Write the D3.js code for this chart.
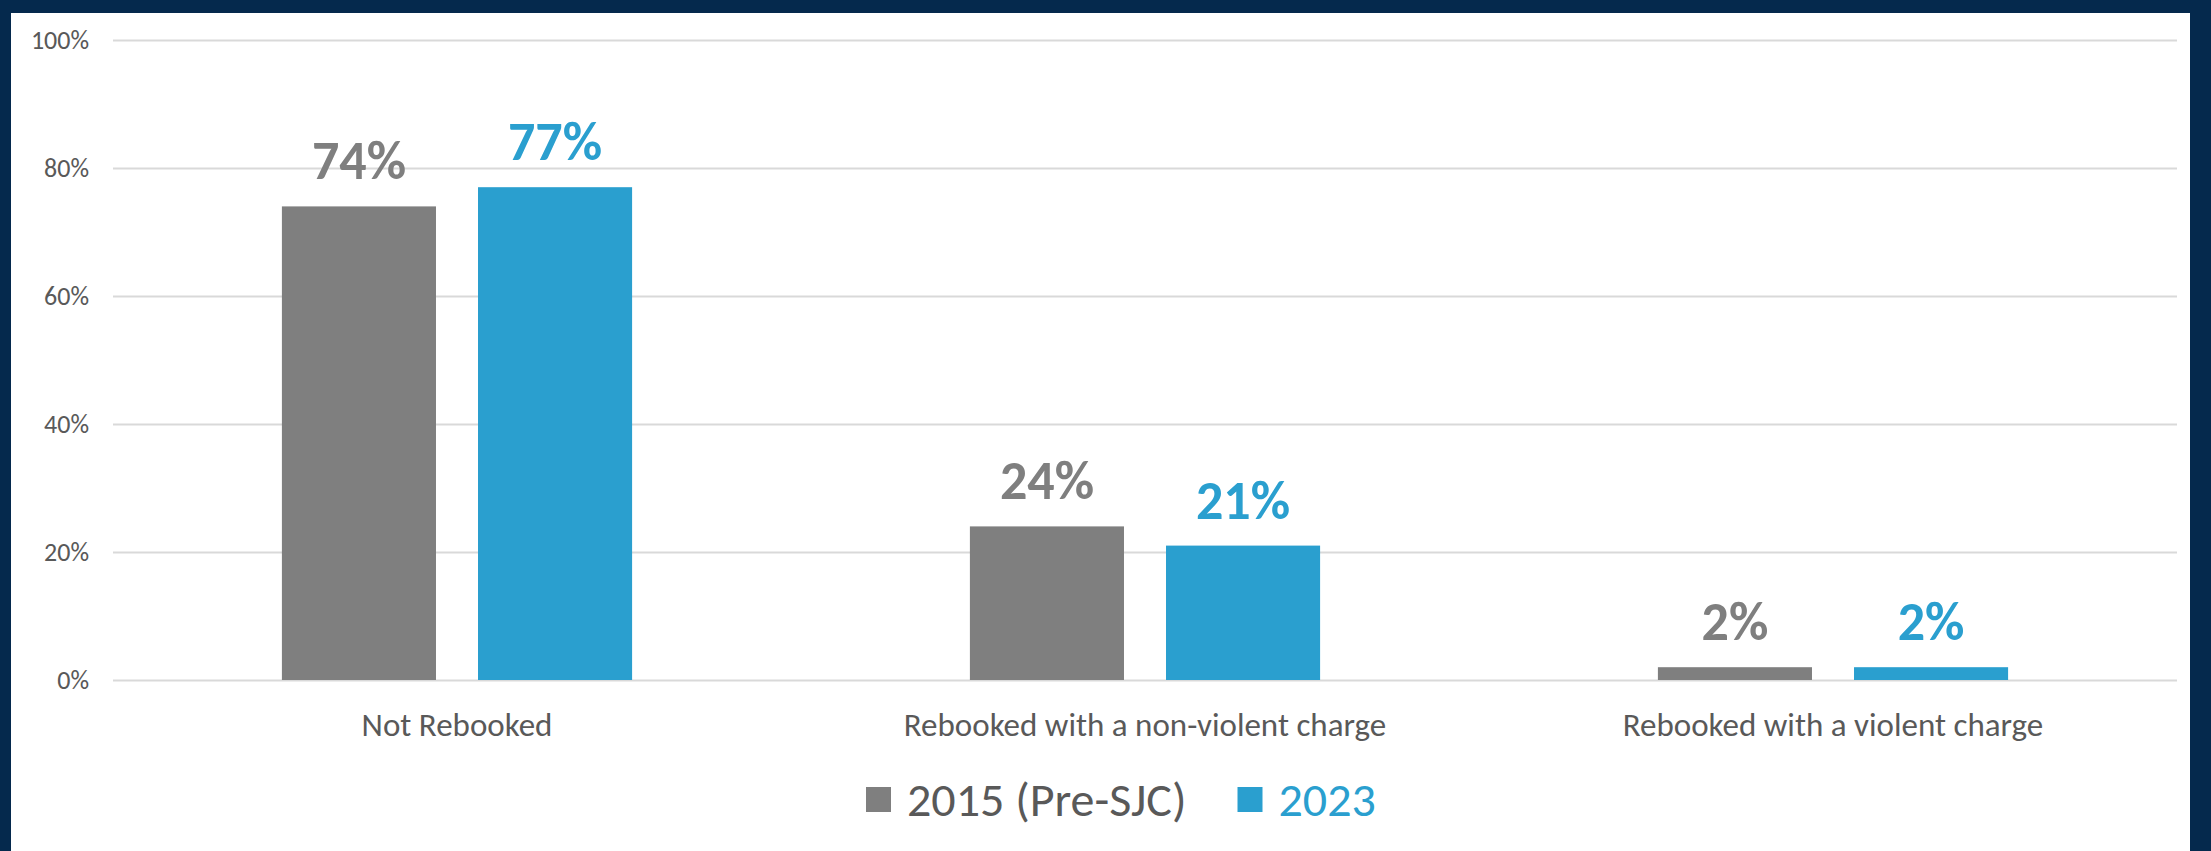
<!DOCTYPE html>
<html>
<head>
<meta charset="utf-8">
<script src="https://cdn.jsdelivr.net/npm/d3@7"></script>
<style>
  html, body { margin: 0; padding: 0; background: #ffffff; }
  svg { display: block; }
  text { font-family: Carlito, Calibri, Lato, "Open Sans", sans-serif; }
</style>
</head>
<body>
<svg id="chart" width="2211" height="851"></svg>
<script>
// ---- data ----
const categories = ["Not Rebooked", "Rebooked with a non-violent charge", "Rebooked with a violent charge"];
const seriesNames = ["2015 (Pre-SJC)", "2023"];
const values2015 = [74, 24, 2];
const values2023 = [77, 21, 2];
const yTicks = [0, 20, 40, 60, 80, 100];
const seriesColors = ["#7f7f7f", "#2a9fcf"];
const legendTextColors = ["#595959", "#2a9fcf"];

const W = 2211, H = 851;
const svg = d3.select("#chart");

// background + navy frame
svg.append("rect").attr("x", 0).attr("y", 0).attr("width", W).attr("height", H).attr("fill", "#05294d");
svg.append("rect").attr("x", 11).attr("y", 13).attr("width", 2190 - 11).attr("height", H - 13).attr("fill", "#ffffff");

const plot = { left: 113, right: 2177, top: 40, bottom: 680 };

const y = d3.scaleLinear().domain([0, 100]).range([plot.bottom, plot.top]);
const x0 = d3.scaleBand().domain(categories).range([plot.left, plot.right])
  .paddingInner(0.491).paddingOuter(0.2455);
const x1 = d3.scaleBand().domain(seriesNames).range([0, x0.bandwidth()]).paddingInner(0.2143);

// gridlines + y labels via axis
const yAxis = d3.axisLeft(y).tickValues(yTicks).tickFormat(d => d + "%")
  .tickSize(-(plot.right - plot.left)).tickPadding(24);
const gy = svg.append("g").attr("transform", `translate(${plot.left},0)`).call(yAxis);
gy.select(".domain").remove();
gy.selectAll(".tick line").attr("stroke", "#d9d9d9").attr("stroke-width", 2);
gy.selectAll(".tick text").attr("fill", "#595959").attr("font-size", 26).attr("font-family", null);

// bars
const rows = categories.map((c, i) => ({ cat: c, vals: [values2015[i], values2023[i]] }));
const groups = svg.append("g").selectAll("g").data(rows).join("g")
  .attr("transform", d => `translate(${x0(d.cat)},0)`);

groups.selectAll("rect").data(d => d.vals.map((v, j) => ({ s: seriesNames[j], v, j })))
  .join("rect")
  .attr("x", d => x1(d.s))
  .attr("y", d => y(d.v))
  .attr("width", x1.bandwidth())
  .attr("height", d => y(0) - y(d.v))
  .attr("fill", d => seriesColors[d.j]);

groups.selectAll("text.val").data(d => d.vals.map((v, j) => ({ s: seriesNames[j], v, j })))
  .join("text").attr("class", "val")
  .attr("x", d => x1(d.s) + x1.bandwidth() / 2)
  .attr("y", d => y(d.v) - 27)
  .attr("text-anchor", "middle")
  .attr("font-size", 54).attr("font-weight", "bold")
  .attr("fill", d => seriesColors[d.j])
  .text(d => d.v + "%");

// x axis labels
const xAxis = d3.axisBottom(x0).tickSize(0).tickPadding(0);
const gx = svg.append("g").attr("transform", `translate(0,${plot.bottom})`).call(xAxis);
gx.select(".domain").remove();
gx.selectAll(".tick text").attr("fill", "#595959").attr("font-size", 33)
  .attr("font-family", null).attr("dy", null).attr("y", 56);

// legend
const legend = svg.append("g").attr("transform", "translate(866,800)");
let lx = 0;
seriesNames.forEach((name, i) => {
  legend.append("rect").attr("x", lx).attr("y", -13).attr("width", 25).attr("height", 25).attr("fill", seriesColors[i]);
  const t = legend.append("text").attr("x", lx + 41).attr("y", 16)
    .attr("font-size", 48).attr("fill", legendTextColors[i]).text(name);
  lx += 41 + t.node().getComputedTextLength() + 51;
});
</script>
</body>
</html>
